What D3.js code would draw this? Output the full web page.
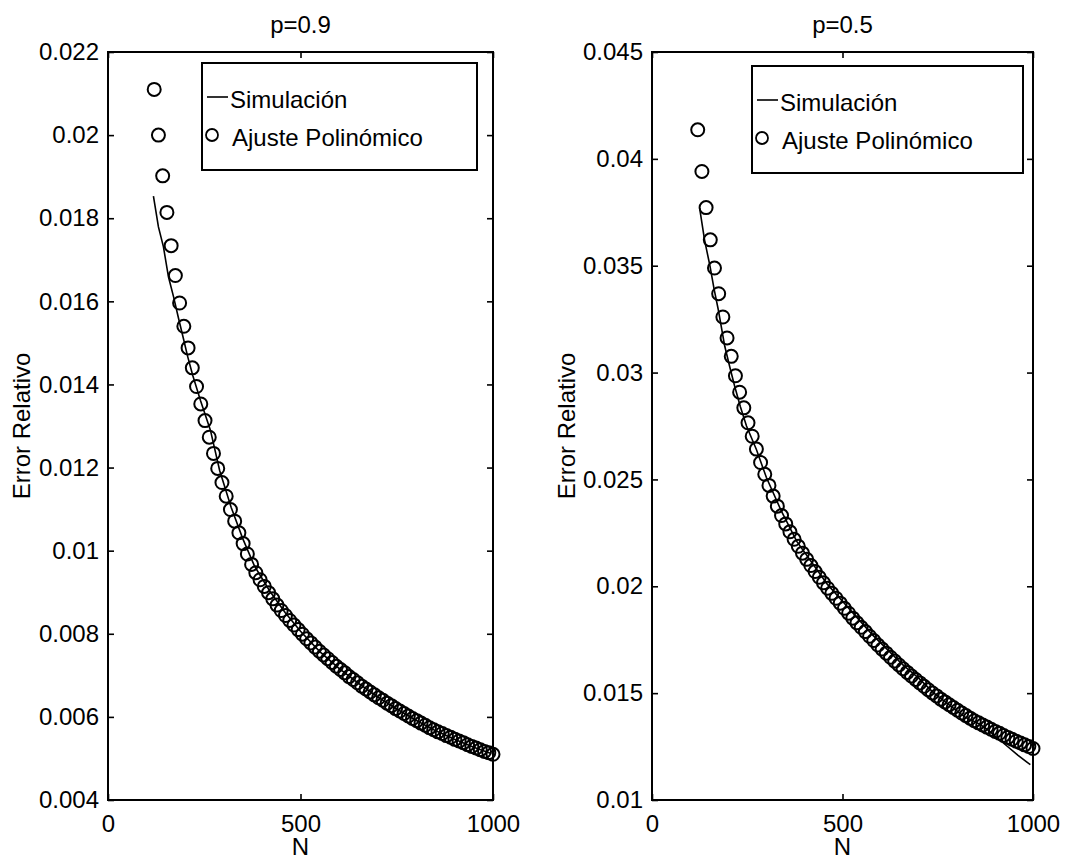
<!DOCTYPE html>
<html>
<head>
<meta charset="utf-8">
<script src="https://cdn.jsdelivr.net/npm/d3@7"></script>
<style>
  body { margin: 0; background: #fff; }
  text { font-family: "Liberation Sans", Arial, Helvetica, sans-serif; }
</style>
</head>
<body>
<div id="chart-area"></div>
<script>
// N values of the polynomial fit (circles)
var nFit = [120, 131, 142, 153, 164, 175, 186, 197, 208, 219, 230, 241, 252, 263, 274, 285, 296, 307, 318, 329,
    340, 351, 362, 373, 384, 395, 406, 417, 428, 439, 450, 461, 472, 483, 494, 505, 516, 527, 538, 549,
    560, 571, 582, 593, 604, 615, 626, 637, 648, 659, 670, 681, 692, 703, 714, 725, 736, 747, 758, 769,
    780, 791, 802, 813, 824, 835, 846, 857, 868, 879, 890, 901, 912, 923, 934, 945, 956, 967, 978, 989, 1000];

// p=0.9, polynomial fit
var fitP09 = [0.02110, 0.02000, 0.01902, 0.01814, 0.01734, 0.01662, 0.01596, 0.01540, 0.01488, 0.01440,
    0.01395, 0.01353, 0.01313, 0.01273, 0.01234, 0.01198, 0.01164, 0.01131, 0.01099, 0.01071,
    0.01043, 0.01017, 0.00992, 0.00967, 0.00947, 0.00930, 0.00914, 0.00899, 0.00884, 0.00869,
    0.00856, 0.00844, 0.00832, 0.00821, 0.00810, 0.00799, 0.00788, 0.00778, 0.00768, 0.00758,
    0.00749, 0.00740, 0.00731, 0.00722, 0.00714, 0.00706, 0.00697, 0.00690, 0.00682, 0.00674,
    0.00667, 0.00660, 0.00653, 0.00646, 0.00640, 0.00633, 0.00627, 0.00620, 0.00614, 0.00608,
    0.00602, 0.00596, 0.00591, 0.00585, 0.00580, 0.00574, 0.00569, 0.00564, 0.00560, 0.00555,
    0.00551, 0.00546, 0.00542, 0.00538, 0.00533, 0.00529, 0.00525, 0.00521, 0.00517, 0.00514, 0.00510];

// p=0.5, polynomial fit
var fitP05 = [0.04136, 0.03941, 0.03772, 0.03621, 0.03489, 0.03369, 0.03260, 0.03162, 0.03076, 0.02985,
    0.02908, 0.02835, 0.02765, 0.02702, 0.02642, 0.02579, 0.02524, 0.02472, 0.02422, 0.02375,
    0.02331, 0.02292, 0.02255, 0.02220, 0.02187, 0.02155, 0.02126, 0.02097, 0.02069, 0.02042,
    0.02016, 0.01991, 0.01967, 0.01944, 0.01921, 0.01897, 0.01874, 0.01851, 0.01829, 0.01808,
    0.01788, 0.01766, 0.01746, 0.01725, 0.01706, 0.01687, 0.01668, 0.01650, 0.01632, 0.01614,
    0.01597, 0.01580, 0.01564, 0.01548, 0.01532, 0.01516, 0.01501, 0.01487, 0.01472, 0.01459,
    0.01446, 0.01433, 0.01420, 0.01407, 0.01395, 0.01383, 0.01371, 0.01361, 0.01351, 0.01341,
    0.01331, 0.01321, 0.01312, 0.01302, 0.01293, 0.01284, 0.01275, 0.01267, 0.01258, 0.01250, 0.01241];

// simulation curves
var simNP09 = [118, 131, 144, 157, 170, 183, 196, 207, 220, 240, 266, 290, 320, 350, 380, 420, 460, 500,
    550, 600, 650, 700, 750, 800, 850, 900, 950, 995];
var simP09 = [0.01853, 0.01779, 0.01731, 0.01659, 0.01612, 0.01560, 0.01510, 0.01467, 0.01422, 0.01362,
    0.01290, 0.01193, 0.01104, 0.01029, 0.00964, 0.00903, 0.00851, 0.00806,
    0.00757, 0.00717, 0.00681, 0.00648, 0.00619, 0.00592, 0.00567, 0.00546, 0.00527, 0.00512];

var simNP05 = [125, 138, 152, 163, 174, 191, 205, 217, 232, 248, 274, 300, 340, 380, 420, 460, 500, 540,
    580, 620, 660, 700, 740, 780, 820, 860, 880, 900, 930, 960, 993];
var simP05 = [0.0377, 0.0362, 0.0350, 0.0339, 0.03294, 0.03123, 0.0302, 0.02936, 0.0284, 0.0275, 0.0264,
    0.0251, 0.0235, 0.0221, 0.0211, 0.0201, 0.0193, 0.0185, 0.0177, 0.0170, 0.0163, 0.0157, 0.0150,
    0.01445, 0.0139, 0.01355, 0.0133, 0.0130, 0.01255, 0.0121, 0.01165];

// ticks
var xTicks = [0, 500, 1000];
var yTicksP09 = [0.004, 0.006, 0.008, 0.01, 0.012, 0.014, 0.016, 0.018, 0.02, 0.022];
var yTicksP05 = [0.01, 0.015, 0.02, 0.025, 0.03, 0.035, 0.04, 0.045];

var legendLabels = ["Simulación", "Ajuste Polinómico"];

var W = 1086, H = 860;
var plotTop = 52, plotBottom = 800;

var svg = d3.select("#chart-area")
    .append("svg")
        .attr("width", W)
        .attr("height", H);

var panels = [
    { left: 108, right: 493, title: "p=0.9", ticks: yTicksP09, fit: fitP09, simN: simNP09, sim: simP09,
      legend: { x: 202, y: 63, w: 275, h: 107 }, ylabX: 22 },
    { left: 652, right: 1033, title: "p=0.5", ticks: yTicksP05, fit: fitP05, simN: simNP05, sim: simP05,
      legend: { x: 752, y: 66, w: 271, h: 107 }, ylabX: 567 }
];

var fmt = d3.format("~g");

panels.forEach(function(p) {
    var x = d3.scaleLinear().domain([0, 1000]).range([p.left, p.right]);
    var y = d3.scaleLinear().domain(d3.extent(p.ticks)).range([plotBottom, plotTop]);

    var g = svg.append("g");

    // axes, ticks pointing inwards
    function style(sel) {
        sel.select(".domain").remove();
        sel.selectAll("line").attr("stroke", "#000").attr("stroke-width", 1.6);
        sel.selectAll("text").attr("font-size", 24).attr("fill", "#000")
            .attr("font-family", "'Liberation Sans', Arial, sans-serif");
    }

    g.append("g")
        .attr("transform", "translate(0," + plotBottom + ")")
        .call(d3.axisBottom(x).tickValues(xTicks).tickSize(-6).tickPadding(15).tickFormat(fmt))
        .call(style);
    g.append("g")
        .attr("transform", "translate(0," + plotTop + ")")
        .call(d3.axisTop(x).tickValues(xTicks).tickSize(-6).tickFormat(""))
        .call(style);
    g.append("g")
        .attr("transform", "translate(" + p.left + ",0)")
        .call(d3.axisLeft(y).tickValues(p.ticks).tickSize(-6).tickPadding(9).tickFormat(fmt))
        .call(style);
    g.append("g")
        .attr("transform", "translate(" + p.right + ",0)")
        .call(d3.axisRight(y).tickValues(p.ticks).tickSize(-6).tickFormat(""))
        .call(style);

    g.append("rect")
        .attr("x", p.left).attr("y", plotTop)
        .attr("width", p.right - p.left).attr("height", plotBottom - plotTop)
        .attr("fill", "none").attr("stroke", "#000").attr("stroke-width", 2);

    // simulation line
    var line = d3.line()
        .x(function(d, i) { return x(p.simN[i]); })
        .y(function(d) { return y(d); });
    g.append("path")
        .datum(p.sim)
        .attr("d", line)
        .attr("fill", "none")
        .attr("stroke", "#000")
        .attr("stroke-width", 1.6);

    // polynomial fit circles
    g.selectAll("circle.fit")
        .data(p.fit)
        .enter()
        .append("circle")
            .attr("class", "fit")
            .attr("cx", function(d, i) { return x(nFit[i]); })
            .attr("cy", function(d) { return y(d); })
            .attr("r", 6.5)
            .attr("fill", "none")
            .attr("stroke", "#000")
            .attr("stroke-width", 2);

    // title and labels
    var cx = (p.left + p.right) / 2;
    g.append("text")
        .attr("x", cx).attr("y", 33)
        .attr("text-anchor", "middle")
        .attr("font-size", 24)
        .text(p.title);
    g.append("text")
        .attr("x", cx).attr("y", 855)
        .attr("text-anchor", "middle")
        .attr("font-size", 24)
        .text("N");
    g.append("text")
        .attr("transform", "translate(" + p.ylabX + ",426) rotate(-90)")
        .attr("text-anchor", "middle")
        .attr("dy", "0.35em")
        .attr("font-size", 24)
        .text("Error Relativo");

    // legend
    var L = p.legend;
    var lg = g.append("g").attr("transform", "translate(" + L.x + "," + L.y + ")");
    lg.append("rect")
        .attr("width", L.w).attr("height", L.h)
        .attr("fill", "#fff").attr("stroke", "#000").attr("stroke-width", 2);
    lg.append("line")
        .attr("x1", 5).attr("x2", 26).attr("y1", 34).attr("y2", 34)
        .attr("stroke", "#000").attr("stroke-width", 1.6);
    lg.append("text")
        .attr("x", 28).attr("y", 45)
        .attr("font-size", 24)
        .text(legendLabels[0]);
    lg.append("circle")
        .attr("cx", 10).attr("cy", 72).attr("r", 6)
        .attr("fill", "none").attr("stroke", "#000").attr("stroke-width", 1.8);
    lg.append("text")
        .attr("x", 30).attr("y", 83)
        .attr("font-size", 24)
        .text(legendLabels[1]);
});
</script>
</body>
</html>
